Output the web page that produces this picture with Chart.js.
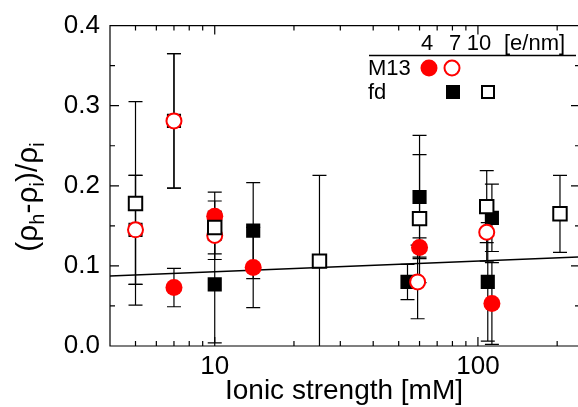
<!DOCTYPE html>
<html>
<head>
<meta charset="utf-8">
<script src="https://cdn.jsdelivr.net/npm/chart.js@4.4.0/dist/chart.umd.min.js"></script>
<style>
  body { margin: 0; background: #fff; }
  canvas { display: block; }
</style>
</head>
<body>
<canvas id="chart" width="578" height="407"></canvas>
<script>
// ionic strength (mM), value, error
const fdOpenX = [5, 10, 25, 60, 108, 205];
const fdOpenY = [0.178, 0.148, 0.106, 0.159, 0.174, 0.165];
const fdOpenErr = [0.127, 0.033, 0.107, 0.080, 0.045, 0.048];

const m13OpenX = [5, 7, 10, 59, 108];
const m13OpenY = [0.145, 0.281, 0.138, 0.080, 0.142];
const m13OpenErr = [0.068, 0.084, 0.030, 0.046, 0.036];

const m13FilledX = [7, 10, 14, 60, 113];
const m13FilledY = [0.073, 0.162, 0.098, 0.123, 0.053];
const m13FilledErr = [0.024, 0.030, 0.050, 0.012, 0.051];

const fdFilledX = [5, 7, 10, 14, 54, 60, 109, 113];
const fdFilledY = [0.145, 0.281, 0.077, 0.144, 0.080, 0.186, 0.080, 0.160];
const fdFilledErr = [0.068, 0.084, 0.073, 0.060, 0.022, 0.077, 0.074, 0.042];

const fitX = [4, 240];
const fitY = [0.0874, 0.1110];

const xTicks = [10, 100];
const yTicks = [0, 0.1, 0.2, 0.3, 0.4];
const legendHeader = ['4', '7', '10', '[e/nm]'];

const RED = '#f00';
const FONT = "'Liberation Sans', Arial, sans-serif";

function pts(xs, ys) {
    return xs.map((x, i) => ({ x: x, y: ys[i] }));
}

const errorBars = {
    id: 'errorBars',
    beforeDatasetsDraw(chart) {
        const ctx = chart.ctx;
        const xs = chart.scales.x, ys = chart.scales.y;
        const a = chart.chartArea;
        ctx.save();
        ctx.beginPath();
        ctx.rect(a.left, a.top, a.right - a.left, a.bottom - a.top);
        ctx.clip();
        ctx.strokeStyle = '#000';
        ctx.lineWidth = 1.2;
        chart.data.datasets.forEach(ds => {
            if (!ds.errors) return;
            ds.data.forEach((p, i) => {
                const px = xs.getPixelForValue(p.x);
                const y1 = ys.getPixelForValue(p.y - ds.errors[i]);
                const y2 = ys.getPixelForValue(p.y + ds.errors[i]);
                ctx.beginPath();
                ctx.moveTo(px, y1); ctx.lineTo(px, y2);
                ctx.moveTo(px - 7, y1); ctx.lineTo(px + 7, y1);
                ctx.moveTo(px - 7, y2); ctx.lineTo(px + 7, y2);
                ctx.stroke();
            });
        });
        ctx.restore();
    }
};

const frame = {
    id: 'frame',
    afterDatasetsDraw(chart) {
        const ctx = chart.ctx;
        const a = chart.chartArea;
        const xs = chart.scales.x, ys = chart.scales.y;
        ctx.save();
        ctx.strokeStyle = '#000';
        ctx.lineWidth = 1.2;
        ctx.beginPath();
        ctx.moveTo(a.right + 2, a.top); ctx.lineTo(a.left, a.top);
        ctx.lineTo(a.left, a.bottom); ctx.lineTo(a.right + 2, a.bottom);
        // log ticks on bottom and top
        for (let d = 1; d <= 100; d *= 10) {
            for (let k = 1; k <= 9; k++) {
                const v = d * k;
                if (v < xs.min || v > xs.max) continue;
                const px = xs.getPixelForValue(v);
                const len = k === 1 ? 9 : 5;
                ctx.moveTo(px, a.bottom); ctx.lineTo(px, a.bottom - len);
                ctx.moveTo(px, a.top); ctx.lineTo(px, a.top + len);
            }
        }
        for (let v = 0; v <= 0.4001; v += 0.05) {
            const py = ys.getPixelForValue(v);
            const len = Math.round(v * 20) % 2 === 0 ? 9 : 5;
            ctx.moveTo(a.left, py); ctx.lineTo(a.left + len, py);
            ctx.moveTo(a.right + 2, py); ctx.lineTo(a.right + 2 - len, py);
        }
        ctx.stroke();
        ctx.restore();
    },
    afterDraw(chart) {
        const ctx = chart.ctx;
        ctx.save();
        // y axis title with subscripts
        const parts = [['(ρ', 0], ['h', 1], ['-ρ', 0], ['i', 1], [')/ρ', 0], ['i', 1]];
        const mainFont = '30px ' + FONT, subFont = '20px ' + FONT;
        let total = 0;
        parts.forEach(p => { ctx.font = p[1] ? subFont : mainFont; total += ctx.measureText(p[0]).width; });
        ctx.translate(37, 197);
        ctx.rotate(-Math.PI / 2);
        ctx.fillStyle = '#000';
        ctx.textBaseline = 'alphabetic';
        ctx.textAlign = 'left';
        let cx = -total / 2;
        parts.forEach(p => {
            ctx.font = p[1] ? subFont : mainFont;
            ctx.fillText(p[0], cx, p[1] ? 7 : 0);
            cx += ctx.measureText(p[0]).width;
        });
        ctx.restore();

        // legend
        ctx.save();
        ctx.fillStyle = '#000';
        ctx.font = '22px ' + FONT;
        ctx.textBaseline = 'middle';
        ctx.textAlign = 'center';
        const hx = [427, 455, 479];
        hx.forEach((x, i) => ctx.fillText(legendHeader[i], x, 44));
        ctx.textAlign = 'left';
        ctx.fillText(legendHeader[3], 504, 44);
        ctx.fillText('M13', 368, 69);
        ctx.fillText('fd', 368, 93);
        ctx.strokeStyle = '#000';
        ctx.lineWidth = 1.3;
        ctx.beginPath(); ctx.moveTo(369, 55.5); ctx.lineTo(576, 55.5); ctx.stroke();

        ctx.fillStyle = RED;
        ctx.beginPath(); ctx.arc(429, 68, 8.5, 0, Math.PI * 2); ctx.fill();
        ctx.strokeStyle = RED; ctx.lineWidth = 2; ctx.fillStyle = '#fff';
        ctx.beginPath(); ctx.arc(452, 68, 7.5, 0, Math.PI * 2); ctx.fill(); ctx.stroke();
        ctx.fillStyle = '#000';
        ctx.fillRect(446, 85, 14, 14);
        ctx.strokeStyle = '#000'; ctx.fillStyle = '#fff';
        ctx.fillRect(481, 85, 14, 14); ctx.strokeRect(482, 86, 12, 12);
        ctx.restore();
    }
};

Chart.defaults.font.family = FONT;
Chart.defaults.color = '#000';

const ctx = document.getElementById('chart').getContext('2d');
const myChart = new Chart(ctx, {
    type: 'scatter',
    data: {
        datasets: [
            {
                data: pts(fdOpenX, fdOpenY), errors: fdOpenErr,
                pointStyle: 'rect', pointRadius: 9.5, borderWidth: 2,
                borderColor: '#000', backgroundColor: '#fff'
            },
            {
                data: pts(m13OpenX, m13OpenY), errors: m13OpenErr,
                pointStyle: 'circle', pointRadius: 7.5, borderWidth: 2,
                borderColor: RED, backgroundColor: '#fff'
            },
            {
                data: pts(m13FilledX, m13FilledY), errors: m13FilledErr,
                pointStyle: 'circle', pointRadius: 8.5, borderWidth: 0,
                borderColor: RED, backgroundColor: RED
            },
            {
                data: pts(fdFilledX, fdFilledY), errors: fdFilledErr,
                pointStyle: 'rect', pointRadius: 10, borderWidth: 0,
                borderColor: '#000', backgroundColor: '#000'
            },
            {
                data: pts(fitX, fitY), showLine: true, pointRadius: 0,
                borderColor: '#000', borderWidth: 1.5
            }
        ]
    },
    options: {
        responsive: false,
        animation: false,
        devicePixelRatio: 1,
        layout: { autoPadding: false, padding: { top: 21, right: 0, bottom: 0, left: 0 } },
        plugins: { legend: { display: false }, tooltip: { enabled: false } },
        scales: {
            x: {
                type: 'logarithmic',
                min: 4,
                max: 240,
                grid: { display: false, drawTicks: false },
                border: { display: false },
                afterBuildTicks: s => { s.ticks = xTicks.map(v => ({ value: v })); },
                afterFit: s => { s.height = 61; s.paddingLeft = 0; s.paddingRight = 0; },
                ticks: {
                    font: { size: 26 }, padding: 5, maxRotation: 0, autoSkip: false,
                    callback: v => String(v)
                },
                title: {
                    display: true, text: 'Ionic strength [mM]',
                    font: { size: 28 }, padding: { top: 0, bottom: -1 }
                }
            },
            y: {
                min: 0,
                max: 0.4,
                grid: { display: false, drawTicks: false },
                border: { display: false },
                afterBuildTicks: s => { s.ticks = yTicks.map(v => ({ value: v })); },
                afterFit: s => { s.width = 110; },
                ticks: {
                    font: { size: 26 }, padding: 10,
                    callback: v => v.toFixed(1)
                }
            }
        }
    },
    plugins: [errorBars, frame]
});
</script>
</body>
</html>
